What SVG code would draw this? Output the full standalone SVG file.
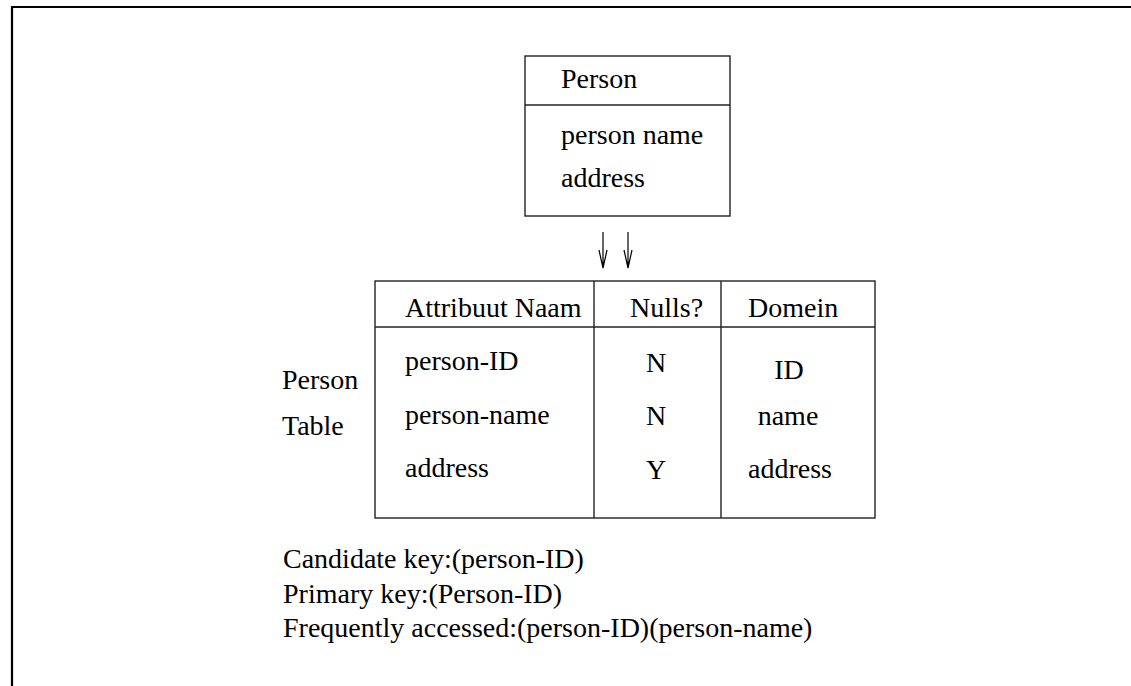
<svg xmlns="http://www.w3.org/2000/svg" width="1131" height="686" viewBox="0 0 1131 686">
  <style>
    text { font-family: "Liberation Serif", "Times New Roman", serif; font-size: 28px; fill: #000; }
    .mid { text-anchor: middle; }
    .box { fill: #fff; stroke: #222; stroke-width: 1.4; }
    .rule { stroke: #222; stroke-width: 1.4; fill: none; }
    .arrow { stroke: #000; stroke-width: 1.2; fill: none; }
  </style>
  <rect width="1131" height="686" fill="#fff"/>

  <!-- page frame -->
  <path d="M12,686 V7 H1131" fill="none" stroke="#000" stroke-width="2.2"/>

  <!-- entity: Person -->
  <g id="person-entity">
    <rect class="box" x="525" y="56" width="205" height="160"/>
    <line class="rule" x1="525" y1="105" x2="730" y2="105"/>
    <text x="561" y="88">Person</text>
    <text x="561" y="144">person name</text>
    <text x="561" y="187">address</text>
  </g>

  <!-- mapping arrows -->
  <g id="connectors">
    <path class="arrow" d="M603,232 V268 M599,250 L603,268 L607,250"/>
    <path class="arrow" d="M628,232 V268 M624,250 L628,268 L632,250"/>
  </g>

  <!-- relation table -->
  <g id="person-table">
    <rect class="box" x="375" y="281" width="500" height="237"/>
    <line class="rule" x1="375" y1="327" x2="875" y2="327"/>
    <line class="rule" x1="594" y1="281" x2="594" y2="518"/>
    <line class="rule" x1="721" y1="281" x2="721" y2="518"/>
    <text x="405" y="317">Attribuut Naam</text>
    <text x="630" y="317">Nulls?</text>
    <text x="748" y="317">Domein</text>
    <text x="405" y="370">person-ID</text>
    <text x="405" y="424">person-name</text>
    <text x="405" y="477">address</text>
    <text class="mid" x="656" y="372">N</text>
    <text class="mid" x="656" y="425">N</text>
    <text class="mid" x="656" y="479">Y</text>
    <text class="mid" x="789" y="379">ID</text>
    <text class="mid" x="788" y="425">name</text>
    <text class="mid" x="790" y="478">address</text>
  </g>

  <!-- table caption -->
  <g id="table-label">
    <text x="282" y="389">Person</text>
    <text x="282" y="435">Table</text>
  </g>

  <!-- key notes -->
  <g id="key-notes">
    <text x="283" y="568">Candidate key:(person-ID)</text>
    <text x="283" y="603">Primary key:(Person-ID)</text>
    <text x="283" y="637">Frequently accessed:(person-ID)(person-name)</text>
  </g>
</svg>
